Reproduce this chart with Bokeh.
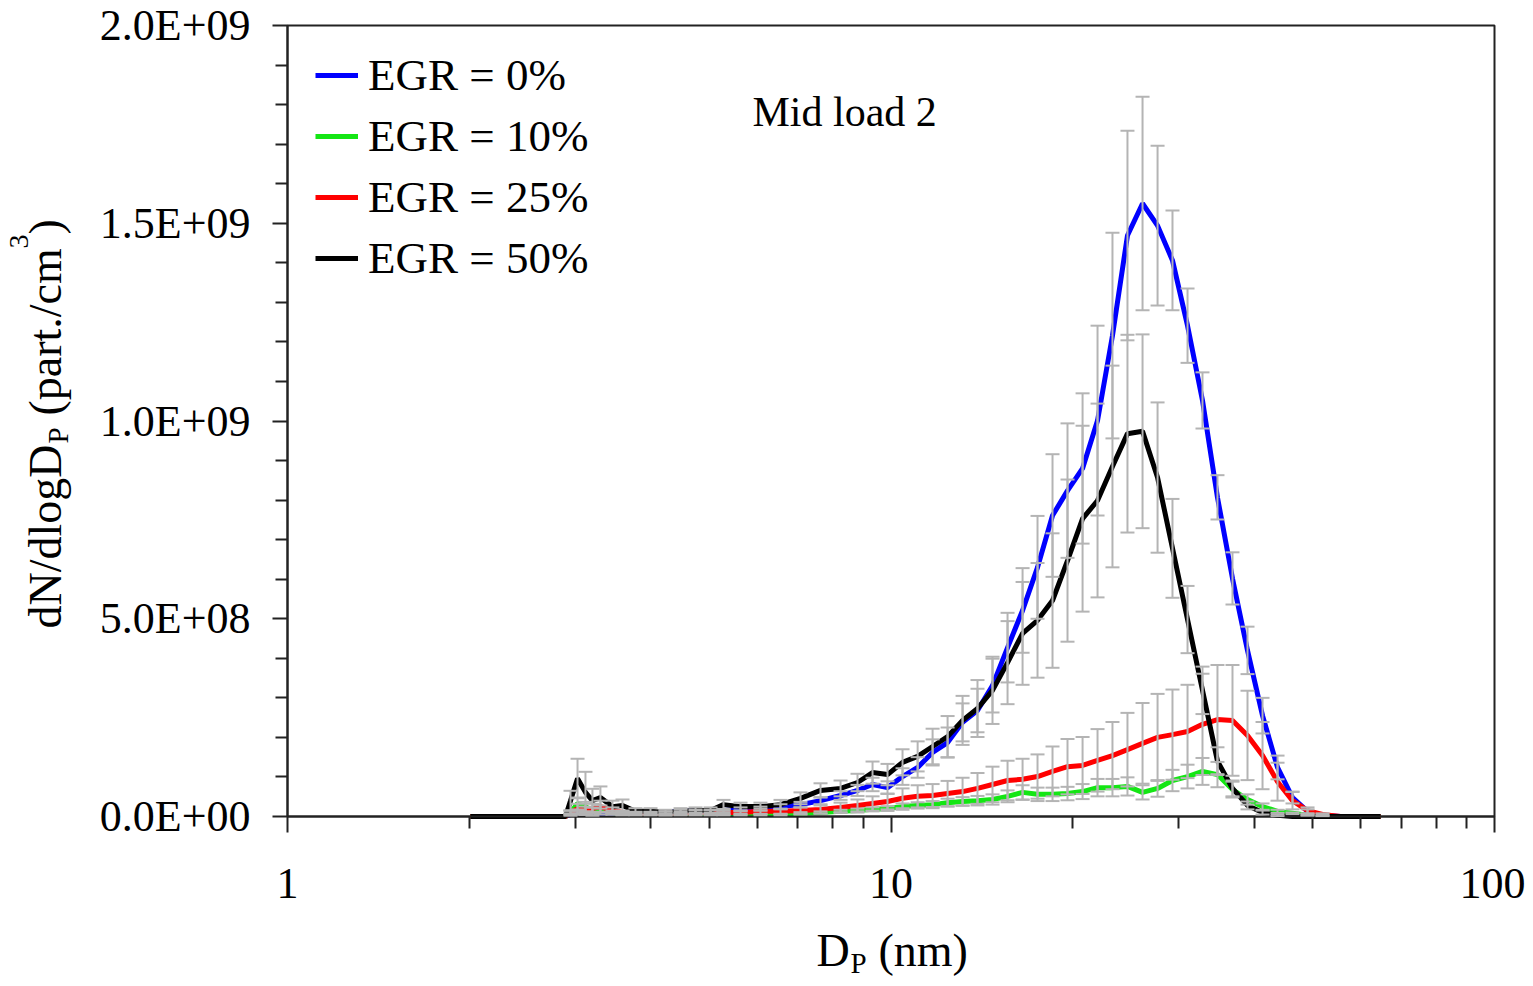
import math
from bokeh.plotting import figure
from bokeh.models import (Range1d, FixedTicker, Whisker, TeeHead, ColumnDataSource,
                          Legend, LegendItem, Label, BoxAnnotation)
from bokeh.embed import file_html
from bokeh.resources import INLINE

# ---------------- data ----------------
dp_nm = [2.010, 2.888, 2.944, 3.024, 3.117, 3.201, 3.300, 3.455, 3.590, 3.772,
         3.995, 4.230, 4.480, 4.744, 5.023, 5.278, 5.632, 6.077, 6.560, 7.080,
         7.642, 8.249, 8.800, 9.320, 9.868, 10.45, 11.07, 11.72, 12.41, 13.14,
         13.91, 14.73, 15.60, 16.52, 17.49, 18.52, 19.61, 20.77, 21.99, 23.28,
         24.65, 26.11, 27.65, 29.27, 31.00, 32.82, 34.75, 36.80, 38.97, 41.27,
         43.70, 46.27, 49.00, 51.88, 55.57, 64.73]

series_names = ["EGR = 0%", "EGR = 10%", "EGR = 25%", "EGR = 50%"]

# dN/dlogDp in units of 1E+08 part./cm3
egr0 = [0, 0, 0.05, 0.10, 0.08, 0.05, 0.08, 0.08, 0.08, 0.08,
        0.08, 0.10, 0.13, 0.13, 0.13, 0.15, 0.18, 0.20, 0.25, 0.30,
        0.40, 0.53, 0.66, 0.81, 0.73, 1.01, 1.24, 1.62, 1.87, 2.38,
        2.68, 3.31, 4.27, 5.21, 6.30, 7.61, 8.24, 8.80, 10.01, 12.16,
        14.69, 15.50, 14.94, 14.06, 12.41, 10.52, 8.07, 6.02, 4.20, 2.55,
        1.24, 0.48, 0.13, 0.03, 0, 0]
egr10 = [0, 0, 0.10, 0.33, 0.25, 0.15, 0.20, 0.10, 0.05, 0.05,
         0.05, 0.05, 0.05, 0.05, 0.05, 0.05, 0.05, 0.05, 0.05, 0.08,
         0.10, 0.13, 0.15, 0.18, 0.20, 0.25, 0.28, 0.30, 0.35, 0.38,
         0.40, 0.43, 0.51, 0.61, 0.56, 0.56, 0.58, 0.63, 0.73, 0.73,
         0.76, 0.61, 0.71, 0.91, 1.01, 1.14, 1.06, 0.68, 0.43, 0.25,
         0.13, 0.08, 0.03, 0, 0, 0]
egr25 = [0, 0, 0.10, 0.20, 0.15, 0.20, 0.25, 0.15, 0.10, 0.08,
         0.08, 0.08, 0.08, 0.10, 0.10, 0.10, 0.10, 0.13, 0.13, 0.15,
         0.18, 0.23, 0.28, 0.33, 0.38, 0.46, 0.51, 0.53, 0.58, 0.63,
         0.71, 0.81, 0.91, 0.94, 1.01, 1.14, 1.26, 1.29, 1.42, 1.54,
         1.69, 1.85, 2.00, 2.07, 2.15, 2.33, 2.45, 2.43, 2.05, 1.54,
         0.88, 0.40, 0.15, 0.05, 0, 0]
egr50 = [0, 0, 0.40, 0.96, 0.61, 0.40, 0.48, 0.25, 0.28, 0.13,
         0.13, 0.10, 0.13, 0.15, 0.15, 0.30, 0.25, 0.25, 0.30, 0.46,
         0.66, 0.71, 0.86, 1.11, 1.06, 1.37, 1.52, 1.77, 2.02, 2.43,
         2.73, 3.19, 3.89, 4.63, 4.96, 5.46, 6.47, 7.53, 7.99, 8.85,
         9.68, 9.74, 8.57, 6.78, 4.98, 3.19, 1.40, 0.71, 0.28, 0.10,
         0.03, 0, 0, 0, 0, 0]

# error bar half-heights, same units
err0 = [0, 0, 0.03, 0.05, 0.04, 0.03, 0.03, 0.03, 0.03, 0.03,
        0.03, 0.03, 0.04, 0.04, 0.04, 0.04, 0.05, 0.05, 0.06, 0.07,
        0.09, 0.11, 0.14, 0.17, 0.16, 0.21, 0.26, 0.33, 0.38, 0.48,
        0.55, 0.68, 0.88, 1.07, 1.30, 1.55, 1.70, 1.90, 2.40, 2.60,
        2.65, 2.70, 2.02, 1.26, 0.94, 0.71, 0.56, 0.66, 0.60, 0.45,
        0.30, 0.15, 0.05, 0.02, 0, 0]
err10 = [0, 0, 0.05, 0.15, 0.12, 0.07, 0.08, 0.05, 0.02, 0.02,
         0.02, 0.02, 0.02, 0.02, 0.02, 0.02, 0.02, 0.02, 0.02, 0.03,
         0.03, 0.04, 0.05, 0.05, 0.06, 0.08, 0.08, 0.09, 0.10, 0.11,
         0.12, 0.13, 0.15, 0.18, 0.17, 0.17, 0.17, 0.19, 0.22, 0.22,
         0.23, 0.18, 0.21, 0.27, 0.30, 0.34, 0.32, 0.20, 0.13, 0.08,
         0.04, 0.02, 0.01, 0, 0, 0]
err25 = [0, 0, 0.05, 0.12, 0.10, 0.12, 0.15, 0.08, 0.05, 0.04,
         0.04, 0.04, 0.04, 0.05, 0.05, 0.05, 0.05, 0.07, 0.07, 0.08,
         0.10, 0.12, 0.15, 0.18, 0.20, 0.25, 0.28, 0.29, 0.32, 0.35,
         0.39, 0.45, 0.50, 0.52, 0.56, 0.63, 0.70, 0.72, 0.79, 0.85,
         0.93, 1.02, 1.10, 1.14, 1.18, 1.28, 1.38, 1.40, 1.13, 0.85,
         0.48, 0.22, 0.08, 0.03, 0, 0]
err50 = [0, 0, 0.25, 0.50, 0.52, 0.30, 0.28, 0.15, 0.15, 0.08,
         0.08, 0.07, 0.08, 0.08, 0.08, 0.12, 0.10, 0.10, 0.12, 0.15,
         0.18, 0.20, 0.22, 0.28, 0.27, 0.33, 0.38, 0.45, 0.52, 0.62,
         0.72, 0.85, 1.05, 1.30, 1.45, 1.70, 2.05, 2.35, 2.45, 2.55,
         2.50, 2.45, 1.90, 1.25, 0.85, 0.60, 0.35, 0.20, 0.10, 0.05,
         0.02, 0, 0, 0, 0, 0]

unit = 1e8

x_major = [1, 10, 100]
x_major_labels = ["1", "10", "100"]
x_minor = [2, 3, 4, 5, 6, 7, 8, 9, 20, 30, 40, 50, 60, 70, 80, 90]
y_major = [0, 500000000, 1000000000, 1500000000, 2000000000]
y_major_labels = ["0.0E+00", "5.0E+08", "1.0E+09", "1.5E+09", "2.0E+09"]
y_minor = [k * 100000000 for k in range(21) if k % 5 != 0]

# ---------------- layout geometry (pixels) ----------------
W, H = 1525, 978
AX_L, AX_R, AX_T, AX_B = 287, 1494, 25, 816     # where the axes box sits
X_LO, X_HI = 1, 100
Y_LO, Y_HI = 0, 2e9

dec_px = (AX_R - AX_L) / math.log10(X_HI / X_LO)
x_start = X_LO * 10 ** (-AX_L / dec_px)
x_end = X_HI * 10 ** ((W - AX_R) / dec_px)
ypp = (Y_HI - Y_LO) / (AX_B - AX_T)
y_start = Y_LO - (H - AX_B) * ypp
y_end = Y_HI + AX_T * ypp

FONT = "Liberation Serif"
AXC = "#222222"
GRAY = "#b4b4b4"

p = figure(width=W, height=H, x_axis_type="log",
           x_range=Range1d(x_start, x_end), y_range=Range1d(y_start, y_end),
           output_backend="svg", toolbar_location=None, title=None,
           min_border_left=0, min_border_right=0,
           min_border_top=0, min_border_bottom=0)
p.background_fill_color = "white"
p.border_fill_color = "white"
p.outline_line_color = None
p.xgrid.visible = False
p.ygrid.visible = False

for ax in (p.xaxis[0], p.yaxis[0]):
    ax.axis_line_color = AXC
    ax.axis_line_width = 2
    ax.major_tick_line_color = AXC
    ax.minor_tick_line_color = AXC
    ax.major_tick_line_width = 2
    ax.minor_tick_line_width = 2
    ax.major_tick_in = 0
    ax.minor_tick_in = 0
    ax.major_label_text_font = FONT
    ax.major_label_text_font_size = "44px"
    ax.major_label_text_color = "black"
    ax.axis_label = None

p.xaxis.fixed_location = Y_LO
p.xaxis.bounds = (X_LO, X_HI)
p.xaxis.ticker = FixedTicker(ticks=x_major, minor_ticks=x_minor)
p.xaxis.major_label_overrides = {v: s for v, s in zip(x_major, x_major_labels)}
p.xaxis.major_tick_out = 16
p.xaxis.minor_tick_out = 12
p.xaxis.major_label_standoff = 36

p.yaxis.fixed_location = X_LO
p.yaxis.bounds = (Y_LO, Y_HI)
p.yaxis.ticker = FixedTicker(ticks=y_major, minor_ticks=y_minor)
p.yaxis.major_label_overrides = {v: s for v, s in zip(y_major, y_major_labels)}
p.yaxis.major_tick_out = 15
p.yaxis.minor_tick_out = 12
p.yaxis.major_label_standoff = 22

# axes box (top and right edges)
p.add_layout(BoxAnnotation(left=X_LO, right=X_HI, bottom=Y_LO, top=Y_HI,
                           fill_alpha=0, line_color=AXC, line_alpha=1.0,
                           line_width=2, level="underlay"))

# ---------------- series ----------------
colors = ["#0000ff", "#14e614", "#ff0000", "#000000"]
values = [egr0, egr10, egr25, egr50]
errors = [err0, err10, err25, err50]

renderers = []
for name, vals, col in zip(series_names, values, colors):
    src = ColumnDataSource(dict(x=dp_nm, y=[v * unit for v in vals]))
    r = p.line("x", "y", source=src, line_color=col, line_width=5)
    renderers.append(r)

for vals, errs in zip(values, errors):
    xs, up, lo = [], [], []
    for x, v, e in zip(dp_nm, vals, errs):
        if e > 0:
            xs.append(x)
            up.append((v + e) * unit)
            lo.append(max(v - e, 0) * unit)
    wsrc = ColumnDataSource(dict(x=xs, upper=up, lower=lo))
    w = Whisker(source=wsrc, base="x", upper="upper", lower="lower",
                dimension="height", line_color=GRAY, line_width=2,
                upper_head=TeeHead(size=14, line_color=GRAY, line_width=2),
                lower_head=TeeHead(size=14, line_color=GRAY, line_width=2),
                level="overlay")
    p.add_layout(w)

legend = Legend(items=[LegendItem(label=n, renderers=[r]) for n, r in zip(series_names, renderers)],
                location=(315, H - 284))
legend.label_text_font = FONT
legend.label_text_font_size = "45px"
legend.label_text_color = "black"
legend.glyph_width = 43
legend.glyph_height = 50
legend.label_height = 50
legend.spacing = 9
legend.padding = 0
legend.margin = 0
legend.label_standoff = 10
legend.border_line_color = None
legend.background_fill_alpha = 0
p.add_layout(legend)

# ---------------- texts ----------------
# (px, py) = wanted baseline point in canvas pixels from the top-left;
# Bokeh places the alphabetic baseline about 0.37 em lower, so it is compensated.
def lab(text, px, py, size, rotated=False):
    fs = float(size.replace("px", ""))
    shift = 0.37 * fs
    if rotated:
        px, ang = px - shift, math.pi / 2
    else:
        py, ang = py - shift, 0.0
    p.add_layout(Label(x=px, y=H - py, x_units="screen", y_units="screen", text=text,
                       text_font=FONT, text_font_size=size, text_color="black",
                       angle=ang, text_align="left", text_baseline="alphabetic"))

lab("Mid load 2", 752, 127, "42px")

lab("dN/dlogD", 62, 628, "46px", True)
lab("P", 68, 443, "29px", True)
lab("(part./cm", 62, 415, "46px", True)
lab("3", 29, 248, "28px", True)
lab(")", 62, 234, "46px", True)

lab("D", 816, 967, "46px")
lab("P", 850, 973, "29px")
lab("(nm)", 878, 967, "46px")

open("out.html", "w").write(file_html(p, INLINE))
